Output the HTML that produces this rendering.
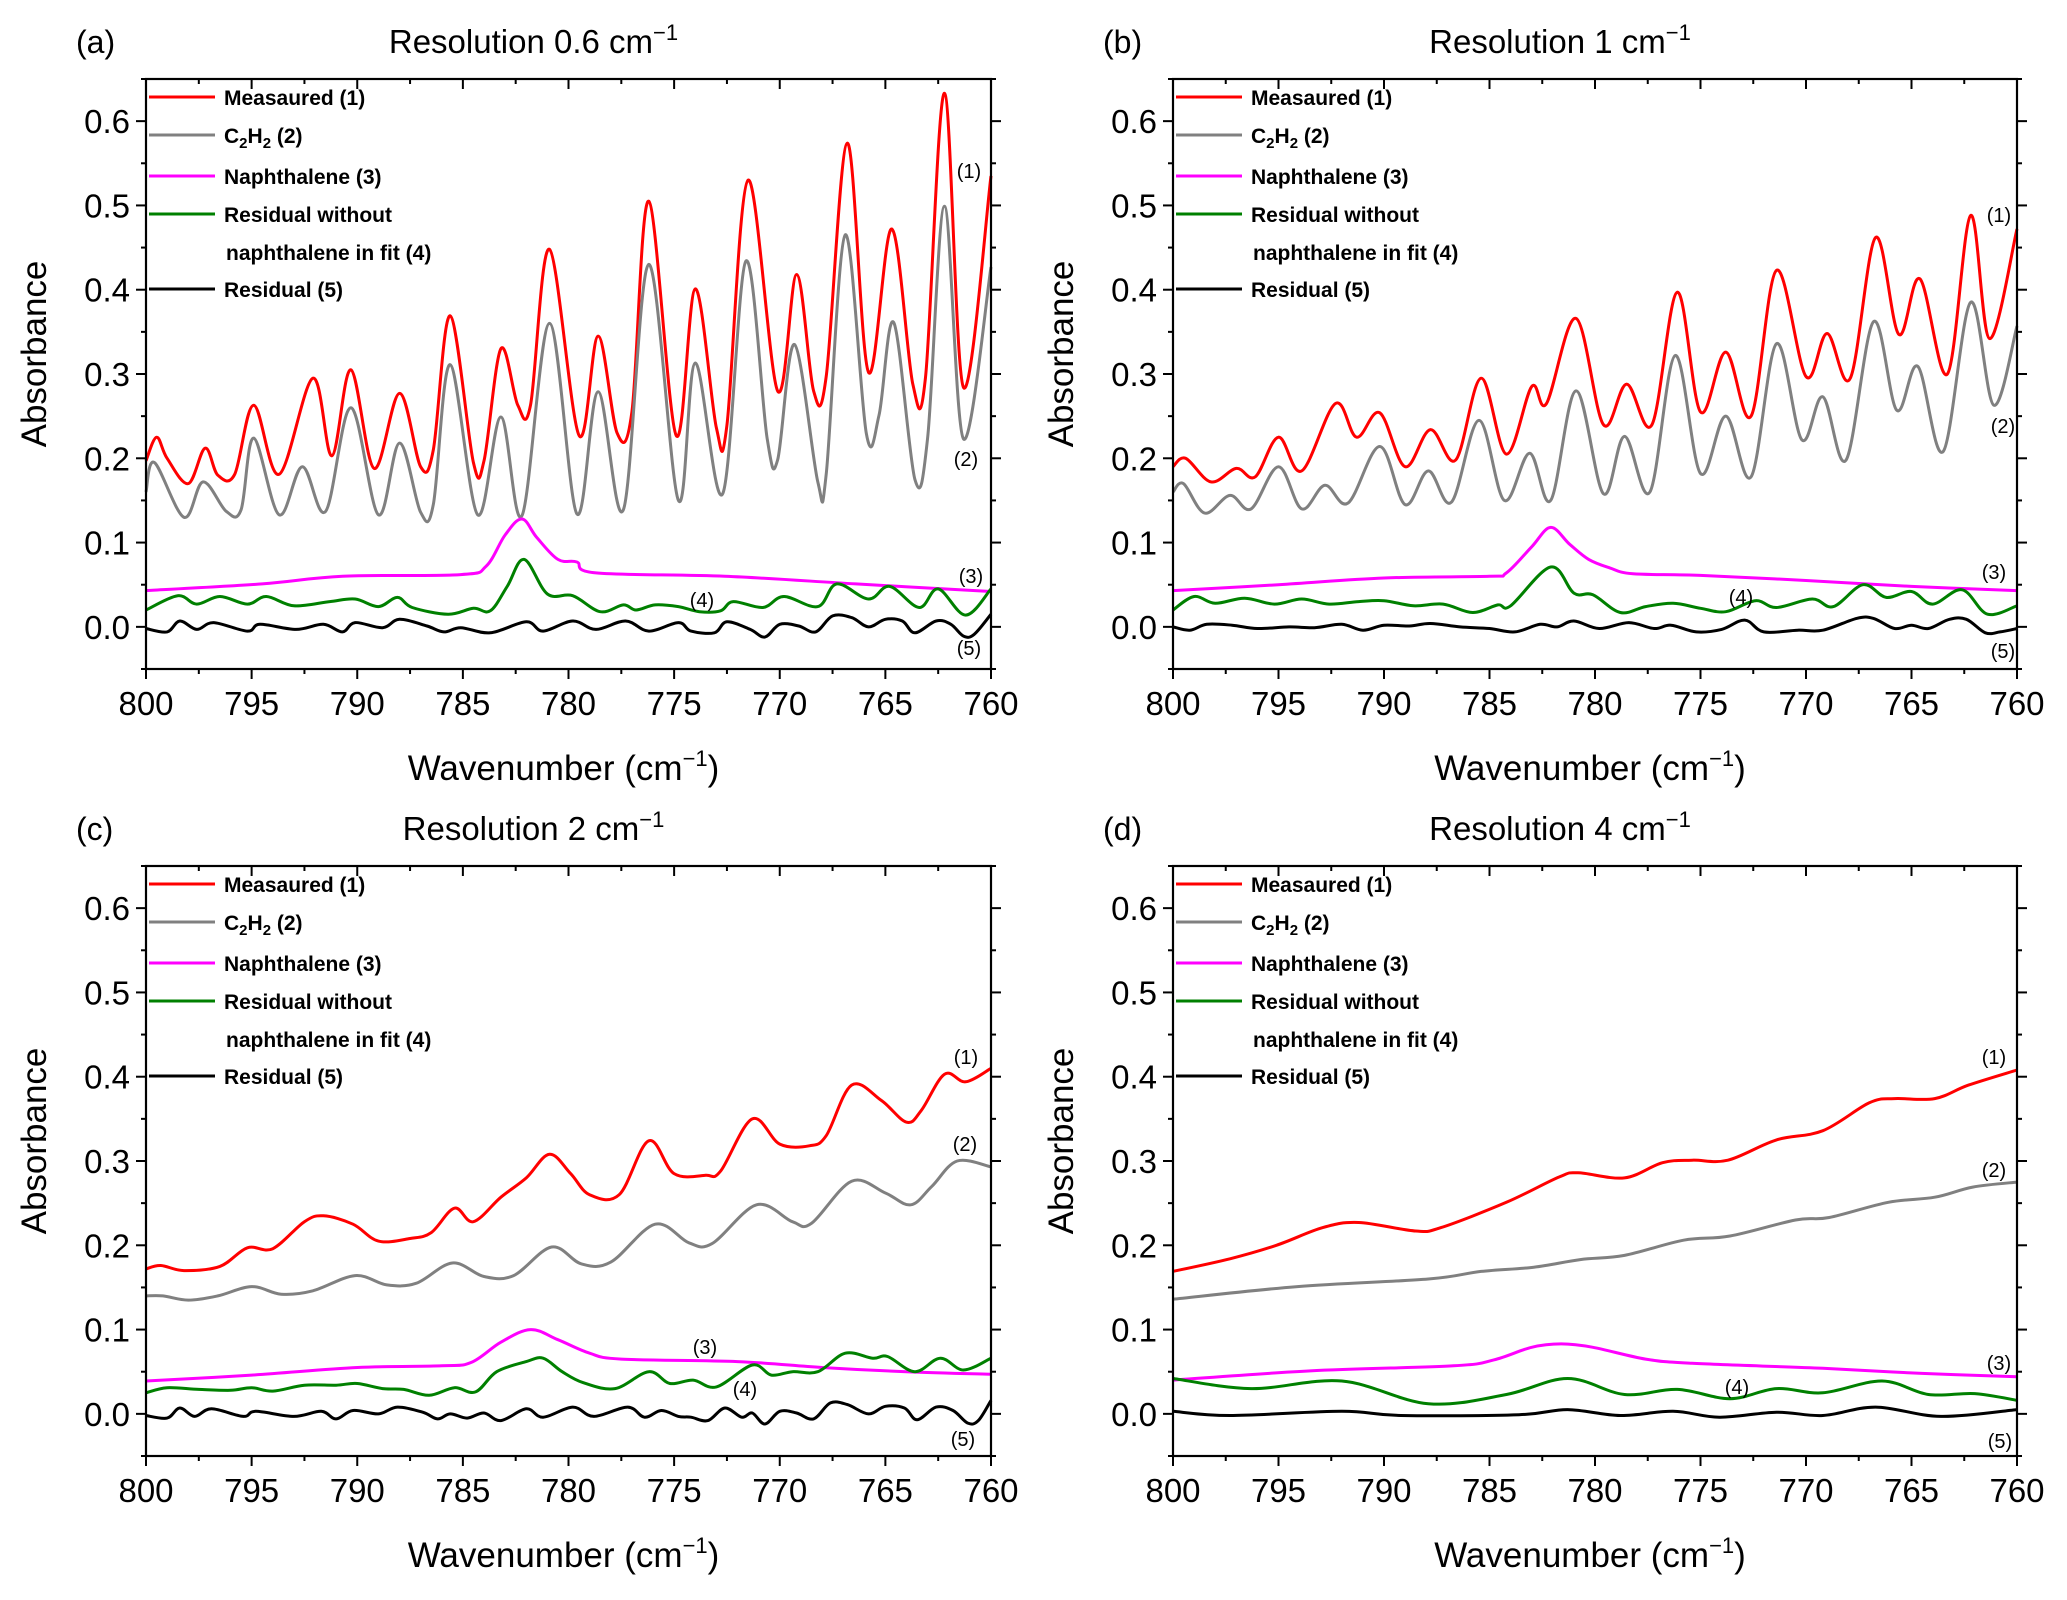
<!DOCTYPE html>
<html><head><meta charset="utf-8">
<style>
html,body{margin:0;padding:0;background:#fff;}
svg{display:block;font-family:"Liberation Sans",Arial,sans-serif;}
</style></head>
<body>
<svg id="fig" width="2067" height="1600" viewBox="0 0 2067 1600" xmlns="http://www.w3.org/2000/svg"></svg>
<script>
// ---------- Data (wavenumber, absorbance) ----------
const yTicks = [0.0, 0.1, 0.2, 0.3, 0.4, 0.5, 0.6];
const xTicks = [800, 795, 790, 785, 780, 775, 770, 765, 760];
const panelLetters = ["(a)", "(b)", "(c)", "(d)"];
const panelResolutions = ["0.6", "1", "2", "4"];

const aMeasured = [[800,0.197],[799.5,0.225],[799,0.2],[798,0.17],[797.2,0.212],[796.6,0.18],[795.8,0.181],[794.9,0.263],[793.7,0.181],[792.1,0.295],[791.2,0.203],[790.3,0.305],[789.2,0.188],[788,0.277],[787,0.19],[786.4,0.21],[785.6,0.369],[784.5,0.195],[784,0.197],[783.2,0.33],[782.4,0.263],[781.8,0.263],[780.9,0.448],[779.5,0.227],[778.6,0.345],[777.7,0.23],[777,0.255],[776.2,0.505],[774.9,0.227],[774,0.401],[773,0.236],[772.5,0.239],[771.5,0.53],[770.1,0.28],[769.2,0.418],[768.4,0.28],[767.8,0.297],[766.8,0.574],[765.8,0.302],[764.7,0.472],[763.7,0.288],[763.1,0.296],[762.2,0.633],[761.3,0.284],[760,0.535]];
const aC2H2 = [[800,0.16],[799.6,0.195],[798.2,0.13],[797.3,0.172],[796.2,0.137],[795.5,0.139],[794.9,0.224],[793.7,0.133],[792.6,0.19],[791.5,0.137],[790.3,0.26],[789,0.133],[788,0.218],[787,0.136],[786.4,0.145],[785.6,0.311],[784.3,0.133],[783.2,0.249],[782.2,0.132],[780.9,0.36],[779.6,0.134],[778.6,0.279],[777.4,0.139],[776.2,0.43],[774.8,0.15],[774,0.313],[772.7,0.158],[771.6,0.434],[770.6,0.224],[770.1,0.198],[769.3,0.335],[768.2,0.172],[767.8,0.181],[766.9,0.465],[765.9,0.229],[765.3,0.251],[764.6,0.361],[763.6,0.175],[763,0.224],[762.2,0.499],[761.3,0.223],[760,0.427]];
const aNaph = [[800,0.043],[794.5,0.051],[790.7,0.06],[785.1,0.062],[783.9,0.072],[783,0.109],[782.2,0.128],[781.5,0.106],[780.5,0.08],[779.6,0.077],[778.7,0.064],[772.6,0.06],[766.4,0.051],[760,0.042]];
const aResNoNaph = [[800,0.02],[798.5,0.037],[797.6,0.027],[796.5,0.036],[795.2,0.027],[794.3,0.036],[793,0.025],[791.3,0.03],[790.1,0.033],[789,0.024],[788.1,0.035],[787.4,0.023],[785.7,0.015],[784.5,0.022],[783.7,0.019],[782.9,0.048],[782.1,0.08],[781,0.039],[779.8,0.037],[778.5,0.018],[777.4,0.026],[776.8,0.02],[775.9,0.026],[774.8,0.024],[773.8,0.018],[772.8,0.019],[772.2,0.03],[770.8,0.023],[769.8,0.036],[768.2,0.024],[767.3,0.051],[765.8,0.033],[764.8,0.048],[763.4,0.023],[762.5,0.045],[761.2,0.014],[760,0.045]];
const aResidual = [[800,-0.002],[799,-0.006],[798.4,0.007],[797.6,-0.003],[796.8,0.005],[795.2,-0.005],[794.6,0.003],[792.9,-0.003],[791.6,0.003],[790.7,-0.006],[790.1,0.005],[788.8,-0.001],[788,0.009],[786.7,0.001],[785.9,-0.006],[785.1,-0.001],[783.7,-0.007],[782,0.006],[781.2,-0.005],[779.8,0.007],[778.7,-0.003],[777.3,0.007],[776.2,-0.005],[774.8,0.005],[774.2,-0.005],[773.1,-0.007],[772.5,0.006],[771.4,-0.003],[770.7,-0.012],[770,0.003],[769.1,0.001],[768.3,-0.006],[767.5,0.013],[766.6,0.011],[765.8,0],[765,0.009],[764.2,0.007],[763.6,-0.007],[762.6,0.007],[761.9,0.003],[761.3,-0.011],[760.8,-0.009],[760,0.015]];

const bMeasured = [[800,0.19],[799.4,0.2],[798.2,0.172],[797,0.188],[796.1,0.178],[795,0.225],[793.9,0.185],[792.3,0.265],[791.3,0.225],[790.2,0.254],[789,0.19],[787.8,0.234],[786.6,0.198],[785.4,0.295],[784.2,0.205],[783,0.285],[782.3,0.265],[780.9,0.366],[779.6,0.24],[778.5,0.288],[777.3,0.24],[776.1,0.397],[775,0.255],[773.8,0.326],[772.6,0.25],[771.4,0.423],[770,0.297],[769,0.348],[767.9,0.295],[766.7,0.462],[765.6,0.347],[764.6,0.413],[763.3,0.3],[762.2,0.488],[761.3,0.342],[760,0.472]];
const bC2H2 = [[800,0.16],[799.5,0.17],[798.5,0.135],[797.3,0.156],[796.3,0.14],[795,0.19],[793.9,0.14],[792.8,0.168],[791.7,0.147],[790.2,0.214],[789,0.145],[787.9,0.185],[786.8,0.148],[785.5,0.245],[784.3,0.15],[783.1,0.206],[782.1,0.15],[780.9,0.28],[779.6,0.158],[778.6,0.226],[777.4,0.16],[776.2,0.322],[775,0.182],[773.8,0.25],[772.6,0.178],[771.4,0.336],[770.2,0.222],[769.2,0.273],[768.1,0.198],[766.8,0.362],[765.7,0.257],[764.7,0.309],[763.5,0.208],[762.2,0.385],[761.1,0.263],[760,0.357]];
const bNaph = [[800,0.043],[795,0.05],[790,0.058],[785,0.06],[784.2,0.064],[783,0.095],[782.1,0.118],[781.2,0.098],[780.3,0.08],[779.3,0.07],[778.2,0.063],[775,0.061],[770,0.055],[765,0.048],[760,0.043]];
const bResNoNaph = [[800,0.02],[799,0.036],[798,0.028],[796.6,0.034],[795.2,0.027],[793.9,0.033],[792.6,0.027],[791.2,0.03],[790,0.031],[788.6,0.025],[787.2,0.027],[785.8,0.017],[784.6,0.026],[784,0.025],[782.1,0.071],[781,0.04],[780.1,0.038],[778.8,0.017],[777.6,0.024],[776.3,0.028],[775,0.022],[773.8,0.018],[772.4,0.031],[771.4,0.023],[769.7,0.033],[768.7,0.024],[767.3,0.05],[766.2,0.035],[765,0.042],[764,0.027],[762.6,0.044],[761.4,0.015],[760,0.025]];
const bResidual = [[800,0],[799.2,-0.004],[798.4,0.003],[797.2,0.002],[796,-0.002],[794.5,0],[793.3,-0.001],[792,0.003],[791,-0.004],[790,0.002],[788.8,0.001],[787.8,0.004],[786.4,0],[785,-0.002],[783.8,-0.006],[782.6,0.003],[781.8,0],[781,0.007],[779.8,-0.002],[778.4,0.005],[777.2,-0.002],[776.4,0.002],[775.2,-0.006],[774,-0.003],[772.9,0.008],[772,-0.006],[770.4,-0.004],[769.2,-0.004],[767.6,0.01],[766.8,0.01],[765.8,-0.002],[765,0.002],[764.2,-0.002],[763.2,0.009],[762.4,0.009],[761.5,-0.007],[760.8,-0.006],[760,-0.002]];

const cMeasured = [[800,0.172],[799.3,0.176],[798.2,0.17],[796.5,0.175],[795.2,0.197],[794,0.196],[792.5,0.228],[791.6,0.235],[790.2,0.225],[789,0.205],[787.5,0.208],[786.5,0.215],[785.4,0.244],[784.5,0.228],[783.2,0.257],[782,0.28],[780.9,0.308],[779.9,0.285],[779,0.26],[777.6,0.26],[776.2,0.324],[775,0.285],[773.5,0.283],[772.8,0.288],[771.3,0.35],[770,0.32],[768.6,0.318],[767.8,0.33],[766.6,0.39],[765.2,0.372],[764,0.346],[763.3,0.36],[762.2,0.403],[761.2,0.394],[760,0.41]];
const cC2H2 = [[800,0.14],[799.2,0.14],[798,0.135],[796.6,0.14],[795,0.151],[793.6,0.142],[792.1,0.146],[790.1,0.164],[788.6,0.153],[787.2,0.155],[785.5,0.179],[784,0.163],[782.6,0.164],[780.8,0.198],[779.4,0.178],[778,0.18],[775.9,0.225],[774.3,0.203],[773.2,0.202],[771.1,0.248],[769.4,0.228],[768.5,0.226],[766.6,0.276],[765,0.262],[763.8,0.248],[762.8,0.27],[761.6,0.3],[760,0.293]];
const cNaph = [[800,0.039],[795,0.046],[790,0.055],[786,0.057],[784.6,0.061],[783.2,0.085],[781.8,0.1],[780.5,0.088],[779,0.072],[777.5,0.065],[772,0.062],[768,0.055],[764,0.05],[760,0.047]];
const cResNoNaph = [[800,0.025],[799,0.031],[797.5,0.029],[796,0.028],[795,0.031],[794,0.027],[792.5,0.034],[791,0.034],[790,0.036],[788.8,0.03],[787.8,0.029],[786.6,0.022],[785.4,0.031],[784.4,0.026],[783.4,0.05],[782,0.062],[781.2,0.066],[780.3,0.05],[779.3,0.037],[777.8,0.03],[776.2,0.05],[775.2,0.036],[774.1,0.04],[773,0.032],[771.3,0.058],[770.4,0.046],[769.4,0.05],[768.2,0.05],[766.9,0.072],[765.6,0.066],[764.9,0.068],[763.6,0.05],[762.4,0.066],[761.3,0.052],[760,0.066]];
const cResidual = [[800,-0.002],[799,-0.005],[798.4,0.007],[797.7,-0.003],[796.9,0.006],[795.4,-0.003],[794.8,0.003],[793,-0.003],[791.7,0.003],[791,-0.006],[790.2,0.004],[789,0],[788.1,0.008],[786.9,0.002],[786.2,-0.006],[785.6,0],[784.8,-0.005],[784,0.001],[783.2,-0.008],[782,0.006],[781.2,-0.004],[779.8,0.008],[778.8,-0.003],[777.2,0.008],[776.4,-0.004],[775.6,0.004],[774.8,-0.003],[774.2,-0.004],[773.4,-0.008],[772.6,0.007],[771.8,-0.004],[771.3,0.001],[770.7,-0.012],[770,0.003],[769.2,0.001],[768.4,-0.006],[767.6,0.013],[766.8,0.011],[765.8,0],[765,0.009],[764.1,0.007],[763.5,-0.007],[762.6,0.008],[761.8,0.004],[761.1,-0.011],[760.6,-0.008],[760,0.016]];

const dMeasured = [[800,0.169],[797.3,0.184],[795.1,0.2],[792.9,0.221],[791.2,0.227],[788.5,0.217],[787.3,0.221],[784.2,0.251],[781.7,0.281],[780.8,0.286],[778.6,0.28],[776.8,0.298],[775.4,0.301],[773.7,0.301],[771.4,0.325],[769.2,0.336],[767,0.369],[765.8,0.374],[763.9,0.374],[762.3,0.39],[760,0.408]];
const dC2H2 = [[800,0.136],[794.1,0.151],[787.9,0.16],[785.4,0.169],[782.9,0.174],[780.7,0.183],[778.6,0.188],[775.8,0.206],[773.6,0.211],[770.5,0.23],[768.9,0.233],[766.1,0.251],[763.9,0.257],[762.1,0.269],[760,0.275]];
const dNaph = [[800,0.04],[793.5,0.051],[786.7,0.057],[784.8,0.064],[783,0.079],[781.6,0.083],[780.1,0.079],[777.6,0.065],[775.4,0.06],[769.2,0.054],[764.5,0.048],[760,0.044]];
const dResNoNaph = [[800,0.042],[796.3,0.03],[792,0.039],[787.9,0.012],[784.2,0.023],[781.3,0.042],[778.6,0.023],[776.1,0.029],[773.6,0.018],[771.4,0.03],[769.2,0.025],[766.4,0.039],[764.2,0.023],[762,0.024],[760,0.016]];
const dResidual = [[800,0.003],[797.3,-0.002],[792,0.003],[789.2,-0.002],[783.6,-0.001],[781.3,0.005],[778.8,-0.002],[776.3,0.003],[774.1,-0.004],[771.4,0.002],[769.2,-0.002],[766.7,0.008],[763.6,-0.003],[760,0.005]];

const seriesColors = ["#ff0000", "#808080", "#ff00ff", "#008000", "#000000"];
const legendLabels = ["Measaured (1)", "C2H2 (2)", "Naphthalene (3)", "Residual without", "Residual  (5)"];

const panelsData = [
  [aMeasured, aC2H2, aNaph, aResNoNaph, aResidual],
  [bMeasured, bC2H2, bNaph, bResNoNaph, bResidual],
  [cMeasured, cC2H2, cNaph, cResNoNaph, cResidual],
  [dMeasured, dC2H2, dNaph, dResNoNaph, dResidual]
];
const annotPos = [
  [[969,171],[966,459],[971,576],[702,600],[969,648]],
  [[1999,215],[2003,426],[1994,572],[1741,597],[2003,651]],
  [[966,1057],[965,1144],[705,1347],[745,1389],[963,1439]],
  [[1994,1057],[1994,1170],[1999,1363],[1737,1387],[2000,1441]]
];
const boxes = [
  {l:146,r:991,t:79,b:669},
  {l:1173,r:2017,t:79,b:669},
  {l:146,r:991,t:866,b:1456},
  {l:1173,r:2017,t:866,b:1456}
];

const NS = "http://www.w3.org/2000/svg";
const svg = document.getElementById("fig");
function mk(tag, attrs, parent){
  const e = document.createElementNS(NS, tag);
  for (const k in attrs) e.setAttribute(k, attrs[k]);
  (parent||svg).appendChild(e);
  return e;
}
function smoothPath(pts){
  let d = "M" + pts[0][0].toFixed(1) + "," + pts[0][1].toFixed(1);
  for (let i=0;i<pts.length-1;i++){
    const p0 = pts[Math.max(0,i-1)], p1 = pts[i], p2 = pts[i+1], p3 = pts[Math.min(pts.length-1,i+2)];
    const t = 0.17;
    const c1x = p1[0] + (p2[0]-p0[0])*t, c1y = p1[1] + (p2[1]-p0[1])*t;
    const c2x = p2[0] - (p3[0]-p1[0])*t, c2y = p2[1] - (p3[1]-p1[1])*t;
    d += "C"+c1x.toFixed(1)+","+c1y.toFixed(1)+" "+c2x.toFixed(1)+","+c2y.toFixed(1)+" "+p2[0].toFixed(1)+","+p2[1].toFixed(1);
  }
  return d;
}

panelsData.forEach((series, pi) => {
  const B = boxes[pi];
  const xS = v => B.l + (800 - v) / 40 * (B.r - B.l);
  const yS = v => B.b - (v + 0.05) / 0.7 * (B.b - B.t);
  const g = mk("g", {});
  
  

  series.forEach((s, si) => {
    const pts = s.map(p => [xS(p[0]), yS(p[1])]);
    const path = mk("path", {d: smoothPath(pts), fill:"none", stroke: seriesColors[si], "stroke-width": 3, "stroke-linejoin":"round"}, g);
    
    
  });

  const fr = mk("rect", {x:B.l, y:B.t, width:B.r-B.l, height:B.b-B.t, fill:"none", stroke:"#000", "stroke-width":2.2}, g);
  
  

  for (let v = -0.05; v <= 0.651; v += 0.05){
    const major = Math.abs(Math.round(v*10) - v*10) < 1e-6;
    const y = yS(v), len = major ? 10 : 5;
    mk("line", {x1:B.l-len, x2:B.l, y1:y, y2:y, stroke:"#000", "stroke-width":2}, g);
    mk("line", {x1:B.r, x2:B.r+len, y1:y, y2:y, stroke:"#000", "stroke-width":2}, g);
  }
  yTicks.forEach(v => {
    const t = mk("text", {x:B.l-16, y:yS(v)+12, "text-anchor":"end", "font-size":33, fill:"#000"}, g);
    t.textContent = v.toFixed(1);
    
    
  });
  for (let v = 800; v >= 760; v -= 2.5){
    const major = (v % 5) === 0;
    const x = xS(v), len = major ? 10 : 5;
    mk("line", {x1:x, x2:x, y1:B.b, y2:B.b+len, stroke:"#000", "stroke-width":2}, g);
    mk("line", {x1:x, x2:x, y1:B.t, y2:B.t+len, stroke:"#000", "stroke-width":2}, g);
  }
  xTicks.forEach(v => {
    const t = mk("text", {x:xS(v), y:B.b+46, "text-anchor":"middle", "font-size":33, fill:"#000"}, g);
    t.textContent = String(v);
    
    
  });
  const xt = mk("text", {x:(B.l+B.r)/2-5, y:B.b+111, "text-anchor":"middle", "font-size":35, fill:"#000"}, g);
  xt.innerHTML = 'Wavenumber (cm<tspan dy="-14" font-size="22">−1</tspan><tspan dy="14">)</tspan>';
  
  
  const ycx = B.l - 100, ycy = (B.t+B.b)/2 - 20;
  const yt = mk("text", {x:ycx, y:ycy, "text-anchor":"middle", "font-size":35, fill:"#000", transform:"rotate(-90 "+ycx+" "+ycy+")"}, g);
  yt.textContent = "Absorbance";
  
  
  const pl = mk("text", {x:B.l-70, y:B.t-26, "font-size":32, fill:"#000"}, g);
  pl.textContent = panelLetters[pi];
  
  
  const tt = mk("text", {x:(B.l+B.r)/2-35, y:B.t-26, "text-anchor":"middle", "font-size":33, fill:"#000"}, g);
  tt.innerHTML = 'Resolution ' + panelResolutions[pi] + ' cm<tspan dy="-13" font-size="22">−1</tspan>';
  
  

  const lg = mk("g", {}, g);
  
  
  const rows = [18, 56, 97, 135, 210];
  rows.forEach((dy, si) => {
    const y = B.t + dy;
    mk("line", {x1:B.l+3, x2:B.l+69, y1:y, y2:y, stroke:seriesColors[si], "stroke-width":3}, lg);
    const t = mk("text", {x:B.l+78, y:y+8, "font-size":21, "font-weight":"bold", fill:"#000"}, lg);
    if (si === 1) t.innerHTML = 'C<tspan dy="5" font-size="15">2</tspan><tspan dy="-5">H</tspan><tspan dy="5" font-size="15">2</tspan><tspan dy="-5"> (2)</tspan>';
    else t.textContent = legendLabels[si];
    
    
  });
  const t2 = mk("text", {x:B.l+80, y:B.t+181, "font-size":21, "font-weight":"bold", fill:"#000"}, lg);
  t2.textContent = "naphthalene in fit (4)";
  
  

  annotPos[pi].forEach((p, k) => {
    const a = mk("text", {x:p[0], y:p[1]+7, "text-anchor":"middle", "font-size":20, fill:"#000"}, g);
    a.textContent = "(" + (k+1) + ")";
    
    
  });
});
</script>
</body></html>
